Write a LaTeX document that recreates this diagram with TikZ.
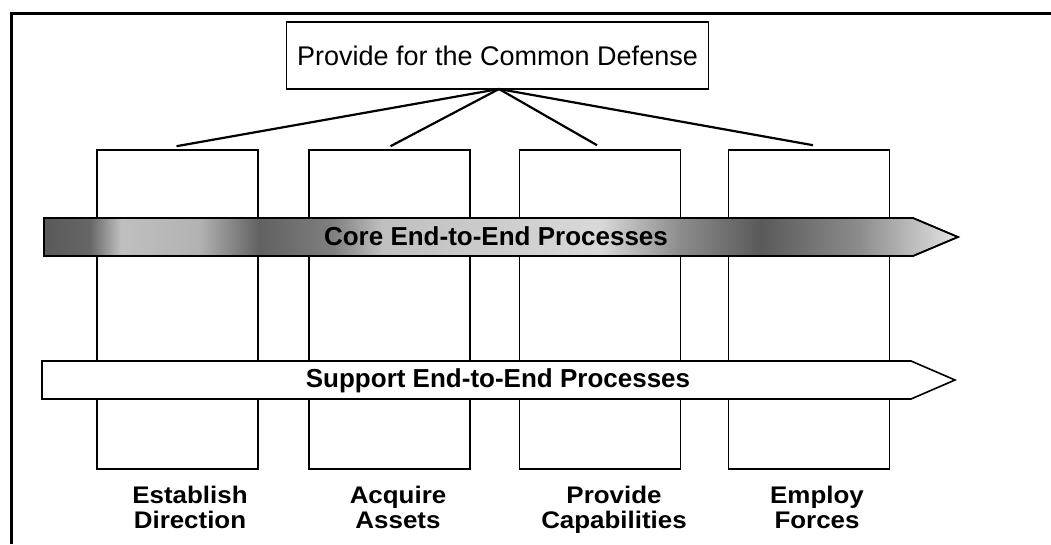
\documentclass[tikz,border=0pt]{standalone}
\usepackage{fontspec}
\setmainfont{Liberation Sans}
\newfontfamily\lblfont[FakeStretch=1.08]{Liberation Sans}
\pgfdeclarehorizontalshading{coreshade}{100bp}{%
color(0bp)=(black!65);
color(25bp)=(black!65);
color(27.5bp)=(black!60);
color(29.2bp)=(black!25);
color(33.5bp)=(black!30);
color(36.8bp)=(black!62);
color(40.8bp)=(black!50);
color(43.5bp)=(black!25);
color(55.4bp)=(black!15);
color(59.8bp)=(black!45);
color(64.2bp)=(black!65);
color(69.6bp)=(black!45);
color(75bp)=(black!10);
color(100bp)=(black!10)}
\begin{document}
\begin{tikzpicture}[x=1pt,y=-1pt,
  colbox/.style={draw, line width=1.6pt, fill=white, minimum width=161pt, minimum height=319pt, inner sep=0pt},
  titlebox/.style={draw, line width=1.6pt, fill=white, minimum width=422pt, minimum height=67pt, inner sep=0pt, font=\fontsize{27}{30}\selectfont},
  conn/.style={line width=2.2pt},
  procarrow/.style={draw, line width=1.6pt, line join=miter},
  arrowtext/.style={inner sep=0pt, font=\bfseries\fontsize{26}{28}\selectfont},
  collabel/.style={inner sep=0pt, anchor=north, align=center, font=\lblfont\bfseries\fontsize{24}{25}\selectfont}
]
\useasboundingbox (0,0) rectangle (1051,544);
% outer frame
\draw[line width=3pt] (11,544) -- (11,13) -- (1051,13);
% top box
\node[titlebox] (top) at (497.5,55.5) {Provide for the Common Defense};
\coordinate (hub) at (499,89);
% columns
\node[colbox] (c1) at (177.5,309.5) {};
\node[colbox] (c2) at (389.5,309.5) {};
\node[colbox] (c3) at (600,309.5) {};
\node[colbox] (c4) at (809,309.5) {};
% connectors
\draw[conn] (hub) -- ([yshift=3pt,xshift=-1pt]c1.north);
\draw[conn] (hub) -- ([yshift=3pt,xshift=1pt]c2.north);
\draw[conn] (hub) -- ([yshift=4pt,xshift=-3pt]c3.north);
\draw[conn] (hub) -- ([yshift=4pt,xshift=4pt]c4.north);
% core arrow
\path[procarrow, shading=coreshade] (44,218) -- (913,218) -- (958,237) -- (913,256) -- (44,256) -- cycle;
\draw[procarrow] (44,218) -- (913,218) -- (958,237) -- (913,256) -- (44,256) -- cycle;
\node[arrowtext] (core) at (496,236) {Core End-to-End Processes};
% support arrow
\draw[procarrow, fill=white] (42,361) -- (911,361) -- (955,380) -- (911,399) -- (42,399) -- cycle;
\node[arrowtext] (support) at (498,381) {Support End-to-End Processes};
% labels
\node[collabel] (l1) at (190,486) {Establish\\Direction};
\node[collabel] (l2) at (398,486) {Acquire\\Assets};
\node[collabel] (l3) at (614,486) {Provide\\Capabilities};
\node[collabel] (l4) at (817,486) {Employ\\Forces};
\end{tikzpicture}
\end{document}
